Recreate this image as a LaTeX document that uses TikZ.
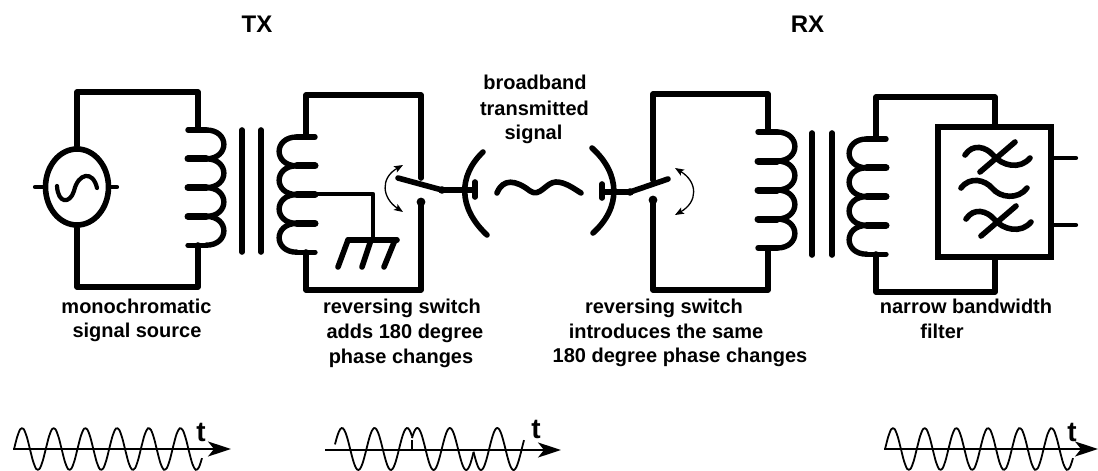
\documentclass[tikz,border=0pt]{standalone}
\usepackage{fontspec}
\setmainfont{Liberation Sans}
\usetikzlibrary{arrows.meta,shapes.geometric}
\newcommand\coil[4]{% stub x, bulge x, top y, dy
  \pgfmathsetmacro\cs{#2>#1?1:-1}
  \pgfmathsetmacro\cc{#2-\cs*#4*0.62}
  \pgfmathsetmacro\ck{#2+\cs*#4*0.2}
  \foreach \i in {0,1,2,3}{
    \pgfmathsetmacro\ya{#3+\i*#4}
    \pgfmathsetmacro\yb{#3+\i*#4+#4}
    \draw[coilline] (\cc,\ya) .. controls (\ck,\ya) and (\ck,\yb) .. (\cc,\yb);
  }
  \draw[coilline] (#1,#3) -- (\cc,#3);
  \draw[coilline] (#1,#3+4*#4) -- (\cc,#3+4*#4);
  \foreach \i in {1,2,3}{
    \draw[coilstub] (#1,#3+\i*#4) -- (\cc,#3+\i*#4);
  }
}
\newcommand\sinewave[4]{% from, to, peak x, period
  \draw[waveline,domain=#1:#2,samples=60,smooth] plot (\x,{449-21*cos((\x-#3)/#4*360)});
}
\tikzset{
  wire/.style={line width=5.6pt,line join=round,line cap=round},
  coilline/.style={line width=5.4pt,line cap=round},
  coilstub/.style={line width=7pt,line cap=round},
  thin wire/.style={line width=4.2pt,line cap=round,line join=round},
  waveline/.style={line width=1.8pt},
  axis line/.style={line width=1.8pt,-{Stealth[length=23pt,width=15pt,inset=6pt]}},
  swing/.style={line width=1.3pt,{Stealth[length=9pt,width=7pt,inset=2pt]}-{Stealth[length=9pt,width=7pt,inset=2pt]}},
  label/.style={font=\fontsize{20}{22}\selectfont\bfseries,inner sep=0pt,anchor=base},
  head/.style={font=\fontsize{24}{26}\selectfont\bfseries,inner sep=0pt,anchor=base},
  tlabel/.style={font=\fontsize{28}{30}\selectfont\bfseries,inner sep=0pt,anchor=base}
}
\begin{document}
\begin{tikzpicture}[x=1pt,y=-1pt]
\useasboundingbox (0,0) rectangle (1098,471);
% --- source circuit
\node[draw,ellipse,line width=5.6pt,minimum width=63pt,minimum height=76pt,inner sep=0pt] (osc) at (77,187) {};
\coordinate (cA1) at (198,130);
\coordinate (cA2) at (198,245);
\draw[wire] (osc.north) |- (198,92) -- (cA1);
\draw[wire] (osc.south) |- (198,287) -- (cA2);
\draw[thin wire] (35,187) -- (osc.west);
\draw[thin wire] (osc.east) -- (117,187);
\draw[thin wire] (57,186) .. controls (58,204) and (70,204) .. (74,191) .. controls (78,173) and (93,170) .. (97,188);
\coil{188}{224}{130}{28.8}
\draw[wire] (242,130) -- (242,252);
\draw[wire] (261,130) -- (261,252);
% --- TX modulator
\coil{315}{279}{137}{28.8}
\coordinate (swTtop) at (421,178);
\coordinate (swTbot) at (421,202);
\draw[wire] (306,137) |- (421,95) -- (swTtop);
\draw[wire] (306,252) |- (421,290) -- (swTbot);
\fill (swTbot) circle (4.4pt);
\draw[wire] (398,178) -- (442,190) -- (473,190);
\fill (442,190) circle (3.8pt);
\draw[wire] (475,182) -- (475,197);
\draw[wire] (483,152) .. controls (458,176) and (458,208) .. (487,235);
\draw[thin wire] (315,194) -- (373,194) -- (373,240);
\draw[wire] (348,240) -- (397,240);
\draw[wire] (348,240) -- (338,267);
\draw[wire] (371,240) -- (362,267);
\draw[wire] (395,240) -- (384,267);
\draw[swing] (403,165) .. controls (380,178) and (382,198) .. (403,212);
% --- broadband signal
\draw[wire] (497,193) .. controls (503,178) and (516,180) .. (530,191) .. controls (540,198) and (546,182) .. (556,182) .. controls (565,182) and (573,188) .. (581,193);
% --- RX demodulator
\draw[wire] (592,148) .. controls (621,174) and (621,208) .. (593,233);
\draw[wire] (602,184) -- (602,198);
\draw[wire] (602,192) -- (630,192) -- (668,179);
\fill (630,192) circle (3.8pt);
\coordinate (swRtop) at (653,180);
\coordinate (swRbot) at (653,200);
\draw[wire] (653,180) |- (768,94) -- (768,132);
\draw[wire] (653,200) |- (768,290) -- (768,248);
\fill (swRbot) circle (4.4pt);
\coil{758}{795}{132}{29}
\draw[swing] (675,168) .. controls (698,182) and (698,202) .. (675,215);
\draw[wire] (812,133) -- (812,255);
\draw[wire] (832,133) -- (832,255);
% --- filter
\coil{886}{849}{139}{28.8}
\node[draw,line width=5.6pt,minimum width=113pt,minimum height=130pt,inner sep=0pt] (filter) at (994.5,192) {};
\draw[wire] (876,139) |- (995,97) -- (995,127);
\draw[wire] (876,254) |- (995,292) -- (995,257);
\coordinate (tA) at (1076,158);
\coordinate (tB) at (1076,225);
\draw[thin wire] (1051,158) -- (tA);
\draw[thin wire] (1051,225) -- (tB);
\foreach \dy/\dx in {0/0,64/1}{
  \begin{scope}[yshift=-\dy pt,xshift=\dx pt]
  \draw[wire] (965,155) .. controls (973,143) and (986,147) .. (993,155) .. controls (1002,166) and (1020,170) .. (1030,158);
  \draw[wire] (980,172) -- (1015,142);
  \end{scope}
}
\draw[wire] (961,188) .. controls (970,176) and (985,180) .. (992,188) .. controls (1000,198) and (1018,200) .. (1027,188);
% --- texts
\node[head] (tx) at (257,32) {TX};
\node[head] (rx) at (807.5,32) {RX};
\node[label] (bb1) at (535,89) {broadband};
\node[label] (bb2) at (534.5,115) {transmitted};
\node[label] (bb3) at (533.5,139) {signal};
\node[label] (m1) at (136.5,313) {monochromatic};
\node[label] (m2) at (137,337) {signal source};
\node[label] (r1) at (402,313) {reversing switch};
\node[label] (r2) at (405,338) {adds 180 degree};
\node[label] (r3) at (401,363) {phase changes};
\node[label] (s1) at (664,313) {reversing switch};
\node[label] (s2) at (666,338) {introduces the same};
\node[label] (s3) at (680,362) {180 degree phase changes};
\node[label] (n1) at (966,313) {narrow bandwidth};
\node[label] (n2) at (942,338) {filter};
% --- time plots
\coordinate (o1) at (13,449); \coordinate (e1) at (231,449);
\coordinate (o2) at (325,450); \coordinate (e2) at (561,450);
\coordinate (o3) at (884,449); \coordinate (e3) at (1098,449);
\draw[axis line] (o1) -- (e1);
\draw[axis line] (o2) -- (e2);
\draw[axis line] (o3) -- (e3);
\sinewave{14}{202}{22}{31.7}
\sinewave{335}{412}{342}{32.6}
\sinewave{412}{473.5}{417.3}{32.6}
\sinewave{473.5}{524}{497.3}{32.6}
\draw[waveline] (412,440) -- (412,450);
\sinewave{885}{1073}{893}{31.7}
\node[tlabel] (t1) at (201,441) {t};
\node[tlabel] (t2) at (536,438) {t};
\node[tlabel] (t3) at (1072,441) {t};
\end{tikzpicture}
\end{document}
